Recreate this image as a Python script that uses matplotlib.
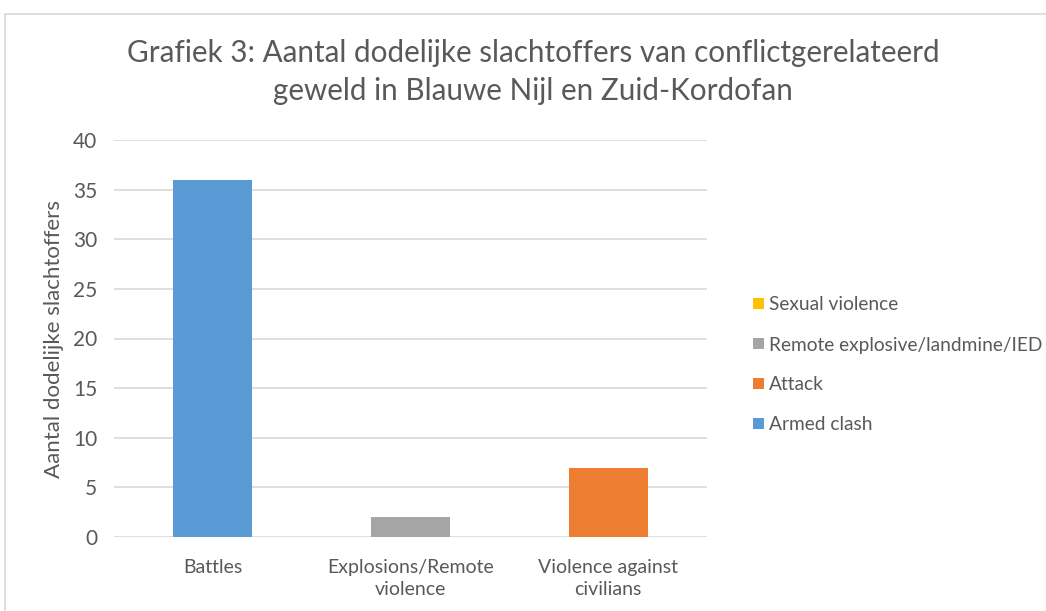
import matplotlib
matplotlib.use("Agg")
import matplotlib.pyplot as plt
from matplotlib.patches import Rectangle
import numpy as np

categories = ["Battles", "Explosions/Remote\nviolence", "Violence against\ncivilians"]
series_names = ["Armed clash", "Attack", "Remote explosive/landmine/IED", "Sexual violence"]
armed_clash = [36, 0, 0]
attack = [0, 0, 7]
remote_explosive = [0, 2, 0]
sexual_violence = [0, 0, 0]
colors = ["#5B9BD5", "#ED7D31", "#A5A5A5", "#FFC000"]

plt.rcParams['font.family'] = ['Lato', 'DejaVu Sans']
txt = "#595959"

W, H = 1046, 611
fig = plt.figure(figsize=(W/100, H/100), dpi=100)
ax = fig.add_axes([114/W, 1-537/H, (707-114)/W, (537-140)/H])

x = np.arange(len(categories))
bottom = np.zeros(len(categories))
handles = []
for vals, name, c in zip([armed_clash, attack, remote_explosive, sexual_violence], series_names, colors):
    b = ax.bar(x, vals, width=0.4, bottom=bottom, color=c, label=name, zorder=3)
    handles.append(b)
    bottom += np.array(vals)

ax.set_xlim(-0.5, 2.5)
ax.set_ylim(0, 40)
ax.set_yticks(range(0, 41, 5))
ax.yaxis.grid(True, color="#D9D9D9", linewidth=1.2, zorder=0)
ax.set_axisbelow(True)
for s in ax.spines.values():
    s.set_visible(False)
ax.tick_params(axis='both', length=0, colors=txt)
ax.tick_params(axis='y', labelsize=15, pad=12)
ax.set_xticks(x)
ax.set_xticklabels(categories, fontsize=14, color=txt, linespacing=1.35)
ax.tick_params(axis='x', pad=16)

fig.text(54/W, 1-339/H, "Aantal dodelijke slachtoffers", rotation=90, ha="center", va="center",
         fontsize=16, color=txt)

fig.text(533/W, 1-72/H, "Grafiek 3: Aantal dodelijke slachtoffers van conflictgerelateerd\ngeweld in Blauwe Nijl en Zuid-Kordofan",
         ha="center", va="center", fontsize=21.3, color=txt, linespacing=1.4)

leg = fig.legend(handles=handles[::-1], labels=series_names[::-1], loc="center left",
                 bbox_to_anchor=(736/W, 1-365/H), frameon=False, fontsize=13.8,
                 handlelength=0.55, handleheight=0.55, handletextpad=0.25, labelspacing=1.2,
                 labelcolor=txt)

fig.patches.append(Rectangle((4.5/W, -0.1), 1.2, 1 - 14/H + 0.1, transform=fig.transFigure,
                             fill=False, edgecolor="#D9D9D9", linewidth=1.2, clip_on=False))

fig.savefig("out.png", dpi=100, facecolor="white")
